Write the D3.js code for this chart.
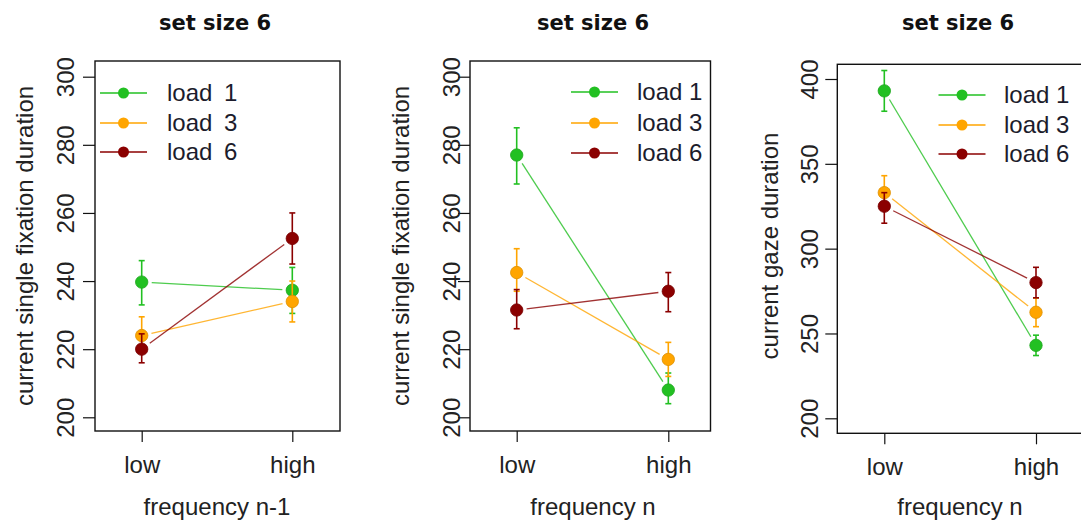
<!DOCTYPE html>
<html>
<head>
<meta charset="utf-8">
<script src="https://cdn.jsdelivr.net/npm/d3@7"></script>
<style>
  body { margin: 0; background: #fff; }
  svg { display: block; }
  text { font-family: "Liberation Sans", Arial, sans-serif; fill: #222; }
</style>
</head>
<body>
<svg width="1081" height="525"></svg>
<script>
// ---- data ----
var categories = ["low", "high"];
var loadNames = ["load 1", "load 3", "load 6"];
var loadColors = ["#22c022", "#ffa500", "#8b0000"];

// panel 1: single fixation duration by frequency n-1
var p1Means = [[239.7, 237.3], [224, 234], [220, 252.5]];
var p1Lower = [[233, 230.5], [219, 228], [216, 245]];
var p1Upper = [[246, 244], [229.5, 240], [224.5, 260]];

// panel 2: single fixation duration by frequency n
var p2Means = [[277, 208], [242.5, 217], [231.5, 237]];
var p2Lower = [[268.5, 204], [237, 212], [226, 231]];
var p2Upper = [[285, 213], [249.5, 222], [237.5, 242.5]];

// panel 3: gaze duration by frequency n
var p3Means = [[393, 243], [333, 262.5], [325, 280]];
var p3Lower = [[381, 237], [323, 254], [315, 271]];
var p3Upper = [[405, 249], [343, 271], [333, 289]];

var p12Ticks = [200, 220, 240, 260, 280, 300];
var p3Ticks = [200, 250, 300, 350, 400];

var panels = [
  { title: "set size 6", ylab: "current single fixation duration", xlab: "frequency n-1",
    means: p1Means, lower: p1Lower, upper: p1Upper, ticks: p12Ticks, dom: [200, 300],
    box: [95, 61, 340, 431], yr: [417.3, 76.7], xr: [141.7, 292.3],
    titleX: 215, ylabX: 33, tickX: 74, xlabX: 217, legX: 100, legTextX: 167, legGap: 5, legY: [93, 123, 152] },
  { title: "set size 6", ylab: "current single fixation duration", xlab: "frequency n",
    means: p2Means, lower: p2Lower, upper: p2Upper, ticks: p12Ticks, dom: [200, 300],
    box: [470, 61, 710.5, 431], yr: [417.3, 76.7], xr: [516.7, 668.3],
    titleX: 593, ylabX: 409, tickX: 460, xlabX: 593, legX: 571, legTextX: 637, legGap: 0, legY: [92, 123, 153] },
  { title: "set size 6", ylab: "current gaze duration", xlab: "frequency n",
    means: p3Means, lower: p3Lower, upper: p3Upper, ticks: p3Ticks, dom: [200, 400],
    box: [837.3, 64.3, 1090, 433.3], yr: [418.3, 79], xr: [884.3, 1036],
    titleX: 958, ylabX: 778, tickX: 818, xlabX: 960, legX: 938.5, legTextX: 1004, legGap: 0, legY: [95, 125, 154] }
];

var svg = d3.select("svg");

panels.forEach(function(p) {
  var g = svg.append("g");
  var x = d3.scalePoint().domain(categories).range(p.xr);
  var y = d3.scaleLinear().domain(p.dom).range(p.yr);

  // title
  g.append("text")
    .attr("x", p.titleX).attr("y", 30)
    .attr("text-anchor", "middle")
    .style("font-family", "'DejaVu Sans', sans-serif")
    .style("font-weight", 700)
    .style("font-size", "21px")
    .style("fill", "#111")
    .text(p.title);

  // box
  g.append("rect")
    .attr("x", p.box[0]).attr("y", p.box[1])
    .attr("width", p.box[2] - p.box[0]).attr("height", p.box[3] - p.box[1])
    .attr("fill", "none").attr("stroke", "#111").attr("stroke-width", 1.4);

  // y axis
  var yAxis = d3.axisLeft(y).tickValues(p.ticks).tickSize(12).tickPadding(0).tickFormat(d3.format("d"));
  var ya = g.append("g").attr("transform", "translate(" + p.box[0] + ",0)").call(yAxis);
  ya.select(".domain").remove();
  ya.selectAll(".tick line").attr("stroke", "#111").attr("stroke-width", 1.2);
  ya.selectAll(".tick text")
    .attr("x", null).attr("dy", null)
    .attr("transform", "translate(" + (p.tickX - p.box[0]) + ",0) rotate(-90)")
    .attr("text-anchor", "middle")
    .style("font-size", "24px").style("fill", "#222");

  // x axis
  var xAxis = d3.axisBottom(x).tickSize(11).tickPadding(0);
  var xa = g.append("g").attr("transform", "translate(0," + p.box[3] + ")").call(xAxis);
  xa.select(".domain").remove();
  xa.selectAll(".tick line").attr("stroke", "#111").attr("stroke-width", 1.2);
  xa.selectAll(".tick text").attr("y", 42).attr("dy", null)
    .style("font-size", "24px").style("fill", "#222");

  // axis titles
  g.append("text")
    .attr("transform", "translate(" + p.ylabX + ",246) rotate(-90)")
    .attr("text-anchor", "middle").style("font-size", "24px")
    .text(p.ylab);
  g.append("text")
    .attr("x", p.xlabX).attr("y", 515)
    .attr("text-anchor", "middle").style("font-size", "24px")
    .text(p.xlab);

  // series: lines with gaps round the points (R type="b"), error bars, points
  loadNames.forEach(function(name, i) {
    var col = loadColors[i];
    var pts = categories.map(function(c, j) { return [x(c), y(p.means[i][j])]; });
    var dx = pts[1][0] - pts[0][0], dy = pts[1][1] - pts[0][1];
    var len = Math.sqrt(dx * dx + dy * dy), gap = 10;
    g.append("line")
      .attr("x1", pts[0][0] + dx / len * gap).attr("y1", pts[0][1] + dy / len * gap)
      .attr("x2", pts[1][0] - dx / len * gap).attr("y2", pts[1][1] - dy / len * gap)
      .attr("stroke", col).attr("stroke-width", 1.3).attr("opacity", 0.8);

    categories.forEach(function(c, j) {
      var cx = x(c);
      var lo = y(p.lower[i][j]), hi = y(p.upper[i][j]);
      g.append("line").attr("x1", cx).attr("x2", cx).attr("y1", lo).attr("y2", hi)
        .attr("stroke", col).attr("stroke-width", 1.6);
      [lo, hi].forEach(function(v) {
        g.append("line").attr("x1", cx - 3).attr("x2", cx + 3).attr("y1", v).attr("y2", v)
          .attr("stroke", col).attr("stroke-width", 1.6);
      });
      g.append("circle").attr("cx", cx).attr("cy", y(p.means[i][j])).attr("r", 6.2)
        .attr("fill", col).attr("stroke", d3.color(col).darker(0.4)).attr("stroke-width", 0.8);
    });
  });

  // legend
  var leg = g.append("g");
  loadNames.forEach(function(name, i) {
    var ly = p.legY[i];
    var parts = name.split(" ");
    leg.append("line").attr("x1", p.legX).attr("x2", p.legX + 47).attr("y1", ly).attr("y2", ly)
      .attr("stroke", loadColors[i]).attr("stroke-width", 1.5);
    leg.append("circle").attr("cx", p.legX + 23.5).attr("cy", ly).attr("r", 5.5)
      .attr("fill", loadColors[i]);
    var t = leg.append("text").attr("x", p.legTextX).attr("y", ly + 8)
      .style("font-size", "24px").style("fill", "#1c1c2c");
    t.append("tspan").text(parts[0] + " ");
    t.append("tspan").attr("dx", p.legGap).text(parts[1]);
  });
});
</script>
</body>
</html>
